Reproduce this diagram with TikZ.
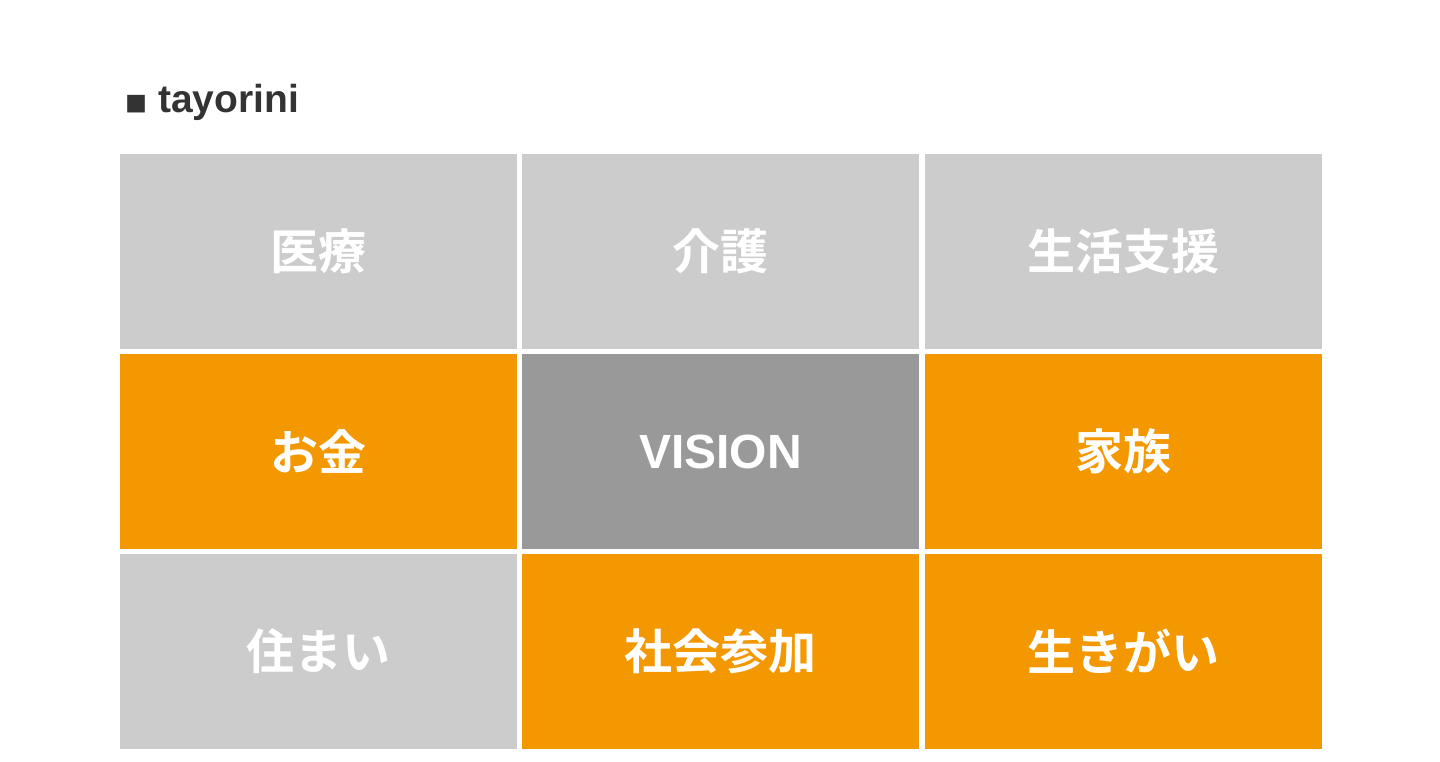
\documentclass[tikz,border=0pt]{standalone}
\usepackage{fontspec}
\setmainfont{Liberation Sans}
\newfontfamily\cjk{Noto Sans CJK JP}[BoldFont={Noto Sans CJK JP Bold}]
\definecolor{lightgr}{HTML}{CCCCCC}
\definecolor{darkgr}{HTML}{999999}
\definecolor{orng}{HTML}{F39800}
\definecolor{titlec}{HTML}{333333}
\tikzset{
  cell/.style={draw=none, minimum width=397pt, minimum height=195pt, inner sep=0pt, outer sep=0pt, anchor=north west, text=white, font=\fontsize{48}{56}\selectfont\bfseries\cjk},
  gcell/.style={cell, fill=lightgr},
  ocell/.style={cell, fill=orng},
  dcell/.style={cell, fill=darkgr, font=\fontsize{48}{56}\selectfont\bfseries},
}
\begin{document}
\begin{tikzpicture}[x=1pt,y=-1pt]
\useasboundingbox (0,0) rectangle (1440,762);
\fill[white] (0,0) rectangle (1440,762);
\node[anchor=base west, text=titlec, inner sep=0pt, font=\fontsize{39}{46}\selectfont\bfseries] (title) at (125,113) {{\cjk\fontsize{22}{26}\selectfont ■}\hspace{11pt}tayorini};
\node[gcell] (c11) at (120,154) {医療};
\node[gcell] (c12) at (522,154) {介護};
\node[gcell] (c13) at (925,154) {生活支援};
\node[ocell] (c21) at (120,354) {お金};
\node[dcell] (c22) at (522,354) {VISION};
\node[ocell] (c23) at (925,354) {家族};
\node[gcell] (c31) at (120,554) {住まい};
\node[ocell] (c32) at (522,554) {社会参加};
\node[ocell] (c33) at (925,554) {生きがい};
\end{tikzpicture}
\end{document}
